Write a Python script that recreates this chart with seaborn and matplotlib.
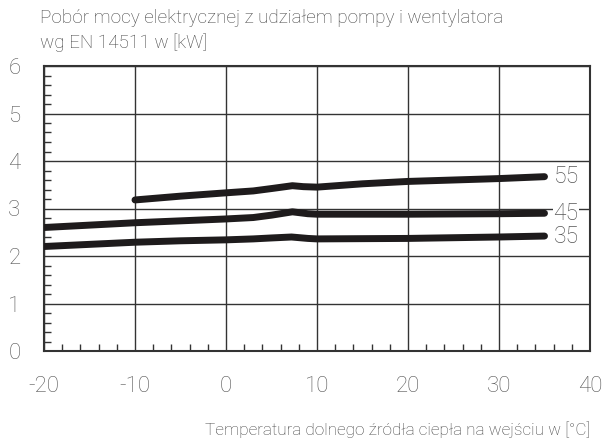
import matplotlib
matplotlib.use("Agg")
import matplotlib.pyplot as plt
from matplotlib.ticker import MultipleLocator
import numpy as np
import pandas as pd
import seaborn as sns

# Electrical power input (kW) vs. source inlet temperature, per flow temperature
temp_55 = [-10, -5, 0, 3, 5, 7.3, 8.5, 10, 15, 20, 25, 30, 35]
power_55 = [3.18, 3.26, 3.33, 3.37, 3.42, 3.48, 3.46, 3.45, 3.52, 3.57, 3.60, 3.63, 3.67]

temp_45 = [-20, -10, -5, 0, 3, 5, 7.3, 9, 10, 20, 30, 35]
power_45 = [2.60, 2.70, 2.74, 2.78, 2.81, 2.86, 2.93, 2.89, 2.88, 2.88, 2.89, 2.90]

temp_35 = [-20, -10, -5, 0, 3, 5, 7.2, 9, 10, 20, 30, 35]
power_35 = [2.20, 2.29, 2.32, 2.34, 2.36, 2.38, 2.40, 2.37, 2.36, 2.37, 2.40, 2.42]

series_labels = ["55", "45", "35"]
x_ticks = [-20, -10, 0, 10, 20, 30, 40]
y_ticks = [0, 1, 2, 3, 4, 5, 6]

title = "Pobór mocy elektrycznej z udziałem pompy i wentylatora\nwg EN 14511 w [kW]"
x_label = "Temperatura dolnego źródła ciepła na wejściu w [°C]"

sns.set_style("white")
plt.rcParams["font.family"] = ["Roboto", "DejaVu Sans"]
plt.rcParams["font.weight"] = "light"

frames = []
for lab, xs, ys in zip(series_labels, [temp_55, temp_45, temp_35],
                       [power_55, power_45, power_35]):
    frames.append(pd.DataFrame({"temp": xs, "power": ys, "series": lab}))
df = pd.concat(frames, ignore_index=True)

fig = plt.figure(figsize=(6.03, 4.47), dpi=100)
ax = fig.add_axes([44 / 603, 1 - 351 / 447, (590 - 44) / 603, (351 - 66) / 447])

line_color = "#1e1b1c"
sns.lineplot(data=df, x="temp", y="power", units="series", estimator=None,
             color=line_color, linewidth=5.0, ax=ax, sort=False,
             solid_capstyle="round", solid_joinstyle="round", zorder=3)

ax.set_xlim(-20, 40)
ax.set_ylim(0, 6)
ax.set_xticks(x_ticks)
ax.set_yticks(y_ticks)
ax.set_xticklabels([str(v) for v in x_ticks])
ax.set_yticklabels([str(v) for v in y_ticks])
ax.xaxis.set_minor_locator(MultipleLocator(2))
ax.yaxis.set_minor_locator(MultipleLocator(0.2))
ax.tick_params(axis="both", which="both", bottom=True, left=True,
               top=False, right=False)
ax.tick_params(axis="both", which="major", direction="in", length=0,
               labelsize=16, labelcolor="#555555")
ax.tick_params(axis="x", which="major", pad=18)
ax.tick_params(axis="y", which="major", pad=17)
ax.tick_params(axis="both", which="minor", direction="in", length=5,
               width=1, color="#333333")
ax.grid(True, which="major", color="#333333", linewidth=1.0)
ax.set_axisbelow(True)
for sp in ax.spines.values():
    sp.set_visible(True)
    sp.set_color("#333333")
    sp.set_linewidth(1.5)
ax.set_xlabel("")
ax.set_ylabel("")

# Flow temperature labels at the end of each curve
for lab, xs, ys in zip(series_labels, [temp_55, temp_45, temp_35],
                       [power_55, power_45, power_35]):
    ax.text(xs[-1] + 1.0, ys[-1], lab, fontsize=16.5, color="#555555",
            va="center", ha="left", zorder=4,
            bbox=dict(facecolor="white", edgecolor="none", pad=0.5))

fig.text(40 / 603, 1 - 9 / 447, title, fontsize=13.6, color="#444444",
         va="top", ha="left", linespacing=1.45)
fig.text(590 / 603, 1 - 430 / 447, x_label, fontsize=12.3, color="#444444",
         va="center", ha="right")

fig.savefig("out.png", dpi=100, facecolor="white")
